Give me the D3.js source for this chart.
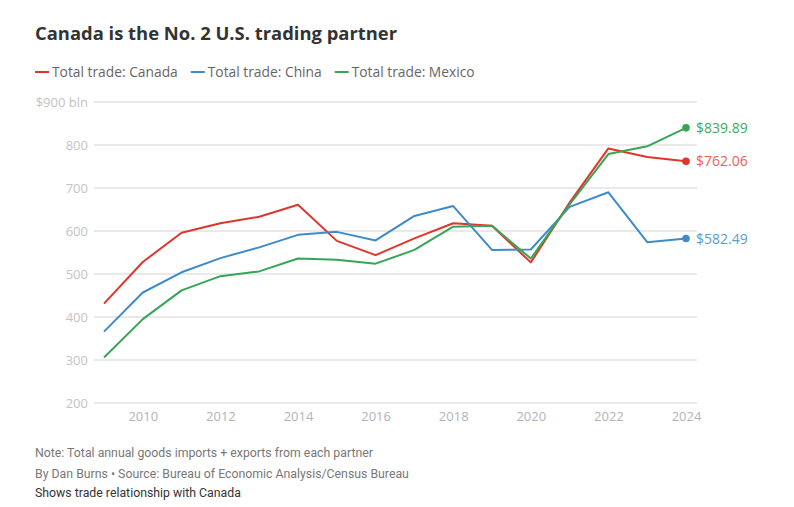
<!DOCTYPE html>
<html>
<head>
<meta charset="utf-8">
<script src="https://cdn.jsdelivr.net/npm/d3@7"></script>
<style>
  body { margin: 0; background: #fff; }
  svg text { font-family: "Open Sans", "Noto Sans", sans-serif; }
</style>
</head>
<body>
<script>
// years and totals (US$ bln)
var years = [2009, 2010, 2011, 2012, 2013, 2014, 2015, 2016, 2017, 2018, 2019, 2020, 2021, 2022, 2023, 2024];
var canada = [431, 528, 596, 618, 633, 661, 577, 544, 583, 618, 612, 527, 666, 792, 772, 762.06];
var china = [366, 457, 504, 537, 562, 591, 598, 578, 635, 658, 556, 557, 656, 690, 574, 582.49];
var mexico = [306, 395, 462, 495, 506, 536, 533, 524, 556, 610, 612, 536, 662, 779, 797, 839.89];
var yTicks = [200, 300, 400, 500, 600, 700, 800, 900];
var xTicks = [2010, 2012, 2014, 2016, 2018, 2020, 2022, 2024];
var series = [
  { name: "Total trade: Canada", values: canada, color: "#e0352b", label: "#e8605a" },
  { name: "Total trade: China", values: china, color: "#3d8bc9", label: "#5a9bd0" },
  { name: "Total trade: Mexico", values: mexico, color: "#36a555", label: "#3fa95e" }
];

var svg = d3.select("body").append("svg").attr("width", 794).attr("height", 507);

svg.append("text").attr("x", 35).attr("y", 40)
  .attr("font-size", 18.4).attr("font-weight", "bold").attr("fill", "#333")
  .text("Canada is the No. 2 U.S. trading partner");

// legend
var lx = 35;
series.forEach(function (s) {
  svg.append("line").attr("x1", lx).attr("x2", lx + 14).attr("y1", 72).attr("y2", 72)
    .attr("stroke", s.color).attr("stroke-width", 2);
  var t = svg.append("text").attr("x", lx + 17).attr("y", 77)
    .attr("font-size", 13.8).attr("fill", "#666").text(s.name);
  lx += 17 + t.node().getComputedTextLength() + 13;
});

var x = d3.scaleLinear().domain([2009, 2024]).range([104, 686]);
var y = d3.scaleLinear().domain([200, 900]).range([403, 102]);

// grid + y labels
var grid = svg.append("g");
grid.selectAll("line").data(yTicks).enter().append("line")
  .attr("x1", 94).attr("x2", 697)
  .attr("y1", function (d) { return y(d); }).attr("y2", function (d) { return y(d); })
  .attr("stroke", "#e2e2e2").attr("stroke-width", 1.3);
grid.selectAll("text").data(yTicks).enter().append("text")
  .attr("x", 88).attr("y", function (d) { return y(d) + 5; })
  .attr("text-anchor", "end").attr("font-size", 13).attr("fill", "#c4c4c4")
  .text(function (d) { return d == 900 ? "$900 bln" : d; });

// x axis labels
var xAxis = d3.axisBottom(x).tickValues(xTicks).tickFormat(d3.format("d")).tickSize(0).tickPadding(9);
var gx = svg.append("g").attr("transform", "translate(0,403)").call(xAxis);
gx.select(".domain").remove();
gx.selectAll("text").attr("font-size", 13).attr("fill", "#b4b4b4")
  .style("font-family", "'Open Sans', sans-serif");

var line = d3.line().x(function (d, i) { return x(years[i]); }).y(function (d) { return y(d); });

series.forEach(function (s) {
  svg.append("path").datum(s.values).attr("d", line)
    .attr("fill", "none").attr("stroke", s.color).attr("stroke-width", 2)
    .attr("stroke-linejoin", "round");
});
series.forEach(function (s) {
  var last = s.values[s.values.length - 1];
  svg.append("circle").attr("cx", x(2024)).attr("cy", y(last)).attr("r", 3.8).attr("fill", s.color);
  svg.append("text").attr("x", x(2024) + 10).attr("y", y(last) + 5)
    .attr("font-size", 14).attr("fill", s.label).text("$" + d3.format(".2f")(last));
});

// footer
var notes = [
  { t: "Note: Total annual goods imports + exports from each partner", y: 457, c: "#777" },
  { t: "By Dan Burns \u2022 Source: Bureau of Economic Analysis/Census Bureau", y: 478, c: "#777" },
  { t: "Shows trade relationship with Canada", y: 497, c: "#333" }
];
notes.forEach(function (n) {
  svg.append("text").attr("x", 35).attr("y", n.y).attr("font-size", 12.3)
    .attr("fill", n.c).style("font-family", "'Liberation Sans Narrow', 'Roboto', sans-serif")
    .text(n.t);
});
</script>
</body>
</html>
